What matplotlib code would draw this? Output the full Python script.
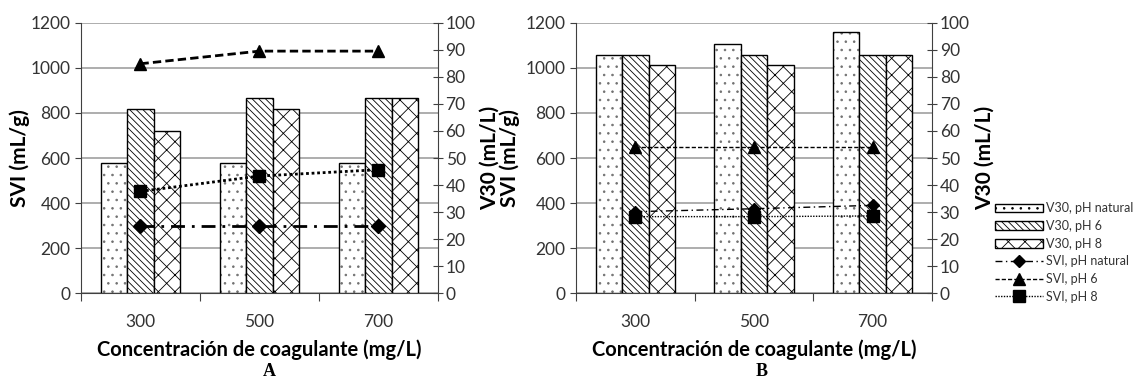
import matplotlib
matplotlib.use("Agg")
import matplotlib.pyplot as plt
import numpy as np

plt.rcParams['font.family'] = ['Lato', 'DejaVu Sans']
plt.rcParams['hatch.linewidth'] = 0.6

categories = ['300', '500', '700']

# panel A
a_v30_nat = [48, 48, 48]
a_v30_ph6 = [68, 72, 72]
a_v30_ph8 = [60, 68, 72]
a_svi_nat = [300, 300, 300]
a_svi_ph6 = [1018, 1074, 1074]
a_svi_ph8 = [452, 520, 548]

# panel B
b_v30_nat = [88, 92.3, 96.5]
b_v30_ph6 = [88, 88, 88]
b_v30_ph8 = [84.3, 84.3, 88]
b_svi_nat = [362, 375, 390]
b_svi_ph6 = [648, 648, 648]
b_svi_ph8 = [340, 340, 343]

grey = '#404040'


def panel(rect, v30, svi, lw, ms, ylab_l, ylab_r):
    ax = fig.add_axes(rect)
    ax2 = ax.twinx()
    ax3 = ax.twinx()
    x = np.arange(len(categories))
    w = 0.223

    ax.set_ylim(0, 1200)
    ax.set_yticks(range(0, 1201, 200))
    ax.set_xlim(-0.5, 2.5)
    ax.grid(axis='y', color='#a0a0a0', linewidth=1.2)
    ax.set_axisbelow(True)
    ax.spines['top'].set_visible(False)
    ax.spines['right'].set_visible(False)
    ax.spines['left'].set_color(grey)
    ax.spines['bottom'].set_color(grey)
    ax.tick_params(axis='y', direction='out', length=4, colors=grey,
                   labelsize=12.5, labelcolor='#333333')
    ax.set_xticks([-0.5, 0.5, 1.5, 2.5])
    ax.set_xticklabels([])
    ax.set_xticks(x, categories, minor=True)
    ax.tick_params(axis='x', which='major', direction='out', length=6, color=grey)
    ax.tick_params(axis='x', which='minor', length=0, pad=15,
                   labelsize=12.5, labelcolor='#333333')
    ax.set_ylabel('SVI (mL/g)', fontsize=15, fontweight='bold')
    ax.yaxis.set_label_coords(ylab_l, 0.5)
    ax.set_xlabel('Concentración de coagulante (mg/L)', fontsize=14.5,
                  fontweight='bold')
    ax.xaxis.set_label_coords(0.5, -0.172)

    # dotted bars: light dots, black outline drawn on top
    b1 = ax2.bar(x - w, v30[0], w, color='white', edgecolor='#707070',
                 hatch='..', linewidth=0, label='V30, pH natural')
    ax2.bar(x - w, v30[0], w, fill=False, edgecolor='black', linewidth=1)
    b2 = ax2.bar(x, v30[1], w, color='white', edgecolor='black',
                 hatch='\\\\\\\\\\', linewidth=1, label='V30, pH 6')
    b3 = ax2.bar(x + w, v30[2], w, color='white', edgecolor='black',
                 hatch='xx', linewidth=1, label='V30, pH 8')
    ax2.set_ylim(0, 100)
    ax2.set_yticks(range(0, 101, 10))
    for s in ['top', 'left', 'bottom']:
        ax2.spines[s].set_visible(False)
    ax2.spines['right'].set_color(grey)
    ax2.tick_params(axis='y', direction='inout', length=7, colors=grey,
                    labelsize=12.5, labelcolor='#333333', pad=2)
    ax2.set_ylabel('V30 (mL/L)', fontsize=15, fontweight='bold')
    ax2.yaxis.set_label_coords(ylab_r, 0.5)

    ax3.set_ylim(0, 1200)
    ax3.axis('off')
    l1, = ax3.plot(x, svi[0], color='black', linestyle=(0, (5, 2.5, 1, 2.5)),
                   linewidth=lw, marker='D', markersize=ms * 0.8,
                   label='SVI, pH natural')
    l2, = ax3.plot(x, svi[1], color='black', linestyle=(0, (3, 1.5)),
                   linewidth=lw, marker='^', markersize=ms,
                   label='SVI, pH 6')
    l3, = ax3.plot(x, svi[2], color='black', linestyle=(0, (1, 1)),
                   linewidth=lw, marker='s', markersize=ms,
                   label='SVI, pH 8')
    return [b1, b2, b3, l1, l2, l3]


fig = plt.figure(figsize=(11.42, 3.81), dpi=100)

panel([0.0709, 0.2302, 0.3126, 0.7102],
      [a_v30_nat, a_v30_ph6, a_v30_ph8],
      [a_svi_nat, a_svi_ph6, a_svi_ph8], 2.0, 9, -0.143, 1.118)
handles = panel([0.5044, 0.2302, 0.3117, 0.7102],
                [b_v30_nat, b_v30_ph6, b_v30_ph8],
                [b_svi_nat, b_svi_ph6, b_svi_ph8], 1.0, 8, -0.157, 1.121)

leg = fig.legend(handles=handles, loc='upper left',
                 bbox_to_anchor=(0.866, 0.485), frameon=False,
                 fontsize=9, handlelength=3.8, handletextpad=0.3,
                 labelspacing=0.45, borderpad=0)
for t in leg.get_texts():
    t.set_color('#333333')
# outline the dotted legend box in black like the bars
leg.legend_handles[0].set_linewidth(1)
leg.legend_handles[0].set_edgecolor('black')

fig.text(0.236, 0.024, 'A', fontfamily='Liberation Serif', fontweight='bold',
         fontsize=13, ha='center', va='center')
fig.text(0.667, 0.024, 'B', fontfamily='Liberation Serif', fontweight='bold',
         fontsize=13, ha='center', va='center')

fig.savefig('out.png', dpi=100)
